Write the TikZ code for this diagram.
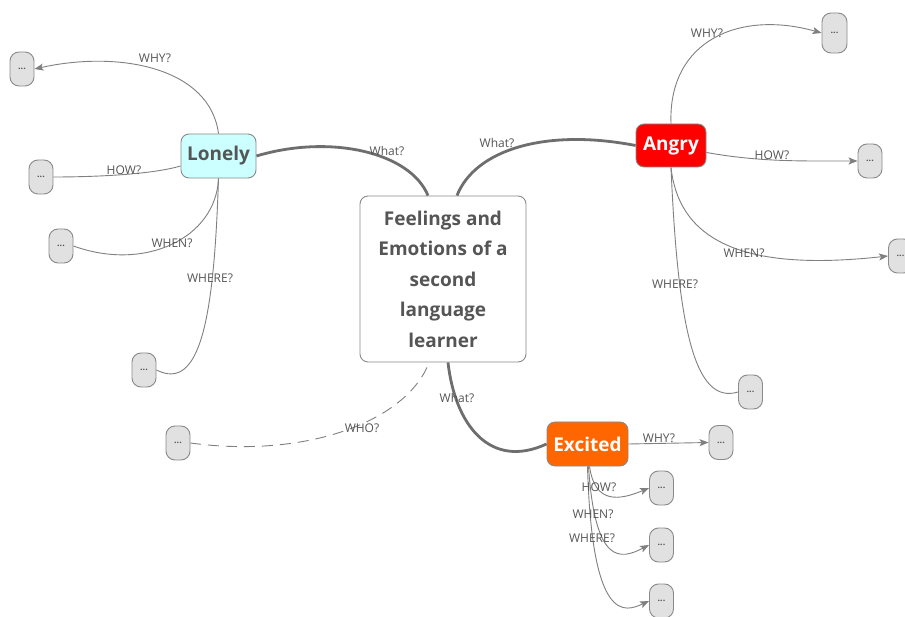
\documentclass[tikz,border=0pt]{standalone}
\usepackage{fontspec}
\setmainfont{Open Sans}
\usetikzlibrary{arrows.meta}
\definecolor{edgec}{HTML}{808080}
\definecolor{mainc}{HTML}{6E6E6E}
\definecolor{txtc}{HTML}{555555}
\definecolor{bordc}{HTML}{8A8A8A}
\definecolor{dotfill}{HTML}{E1E1E1}
\definecolor{lonelyc}{HTML}{CCFFFF}
\definecolor{angryc}{HTML}{FF0000}
\definecolor{excitedc}{HTML}{FF6600}
\begin{document}
\begin{tikzpicture}[x=1pt,y=-1pt,
  topic/.style={draw=bordc, line width=0.9pt, rounded corners=8pt, inner sep=0pt,
    minimum height=44pt, font=\bfseries\fontsize{19}{22}\selectfont, text=txtc},
  dots/.style={draw=bordc, fill=dotfill, line width=0.9pt, rounded corners=9pt,
    minimum width=24pt, minimum height=34pt, inner sep=0pt,
    font=\bfseries\fontsize{9}{9}\selectfont, text=txtc},
  mainedge/.style={draw=mainc, line width=2.8pt},
  thinedge/.style={draw=edgec, line width=0.9pt},
  arr/.style={-{Stealth[length=9pt,width=7pt,inset=2pt]}},
  lab/.style={font=\fontsize{12}{12}\selectfont, text=txtc, inner sep=0pt}
]
\useasboundingbox (0,0) rectangle (905,617);
\fill[white] (0,0) rectangle (905,617);

% nodes
\node[draw=bordc, line width=0.9pt, rounded corners=8pt, minimum width=166pt, minimum height=166pt,
  align=center, text=txtc, font=\bfseries\fontsize{19}{30.5}\selectfont, inner sep=0pt]
  (center) at (443,279) {Feelings and\\Emotions of a\\second\\language\\learner};
\node[topic, fill=lonelyc, minimum width=75pt] (lonely) at (218.5,156) {Lonely};
\node[topic, fill=angryc, text=white, minimum width=70pt, minimum height=43pt] (angry) at (671,145.5) {Angry};
\node[topic, fill=excitedc, text=white, minimum width=81pt] (excited) at (587.5,444) {Excited};

\node[dots] (lwhy) at (22,69) {...};
\node[dots] (lhow) at (41,177) {...};
\node[dots] (lwhen) at (61,246) {...};
\node[dots] (lwhere) at (144,370) {...};
\node[dots] (who) at (178,443) {...};
\node[dots, minimum height=40pt, minimum width=25pt] (awhy) at (834.5,33) {...};
\node[dots] (ahow) at (870,161) {...};
\node[dots] (awhen) at (900.5,256) {...};
\node[dots] (awhere) at (750.5,392) {...};
\node[dots] (ewhy) at (721,442.5) {...};
\node[dots] (ehow) at (661.5,488) {...};
\node[dots] (ewhen) at (661.5,545) {...};
\node[dots] (ewhere) at (661.5,601) {...};

% main edges
\draw[mainedge] (lonely.east) .. controls (330,134) and (410,152) .. ([xshift=-15pt]center.north);
\draw[mainedge] ([xshift=14pt]center.north) .. controls (475,150) and (545,128) .. (angry.west);
\draw[mainedge] ([xshift=5pt]center.south) .. controls (455,425) and (490,470) .. (excited.west);
\draw[thinedge, dash pattern=on 11pt off 7pt] ([xshift=-16pt,yshift=-5pt]center.south) .. controls (400,425) and (300,458) .. (who.east);

% Lonely edges
\draw[thinedge, arr] (lonely.north) .. controls (210,68) and (120,50) .. (lwhy.east);
\draw[thinedge] ([yshift=-10pt]lonely.west) .. controls (150,175) and (90,177) .. (lhow.east);
\draw[thinedge] (lonely.south) .. controls (216,238) and (145,272) .. (lwhen.east);
\draw[thinedge] (lonely.south) .. controls (214,320) and (200,392) .. (lwhere.east);

% Angry edges
\draw[thinedge, arr] (angry.north) .. controls (668,40) and (740,10) .. (awhy.west);
\draw[thinedge, arr] ([yshift=-7pt]angry.east) .. controls (760,162) and (800,161) .. (ahow.west);
\draw[thinedge, arr] (angry.south) .. controls (680,250) and (760,270) .. (awhen.west);
\draw[thinedge] (angry.south) .. controls (678,330) and (695,405) .. (awhere.west);

% Excited edges
\draw[thinedge, arr] (excited.east) -- (ewhy.west);
\draw[thinedge, arr] ([xshift=2pt]excited.south) .. controls (595,505) and (620,500) .. (ehow.west);
\draw[thinedge, arr] ([xshift=1pt]excited.south) .. controls (595,565) and (620,560) .. (ewhen.west);
\draw[thinedge, arr] (excited.south) .. controls (592,625) and (625,612) .. (ewhere.west);

% labels
\node[lab] (l1) at (387,151) {What?};
\node[lab] (l2) at (497,143) {What?};
\node[lab] (l3) at (457,398) {What?};
\node[lab] (l4) at (362,428) {WHO?};
\node[lab] (l5) at (155,58) {WHY?};
\node[lab] (l6) at (124,170) {HOW?};
\node[lab] (l7) at (172,243) {WHEN?};
\node[lab] (l8) at (210,278) {WHERE?};
\node[lab] (l9) at (707,33) {WHY?};
\node[lab] (l10) at (772,155) {HOW?};
\node[lab] (l11) at (744,253) {WHEN?};
\node[lab] (l12) at (675,284) {WHERE?};
\node[lab] (l13) at (659,438) {WHY?};
\node[lab] (l14) at (599,487) {HOW?};
\node[lab] (l15) at (593,514) {WHEN?};
\node[lab] (l16) at (592,538) {WHERE?};
\end{tikzpicture}
\end{document}
